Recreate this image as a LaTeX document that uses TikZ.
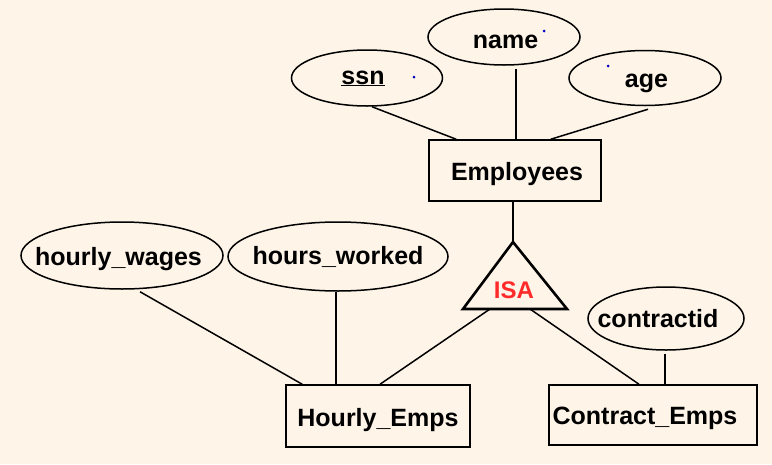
\documentclass[tikz,border=0pt]{standalone}
\usepackage{fontspec}
\setmainfont{Liberation Sans}
\usetikzlibrary{shapes.geometric,calc}
\definecolor{bgc}{HTML}{FEF4E8}
\definecolor{isared}{HTML}{FF2A2A}
\newcommand{\tx}[3][0pt]{\makebox[0pt]{\hspace{#1}\smash{\raisebox{#2}{#3}}}}
\begin{document}
\begin{tikzpicture}[x=1pt,y=-1pt,
  lbl/.style={font=\fontsize{25}{30}\selectfont\bfseries},
  attr/.style={draw, ellipse, line width=1.5pt, inner sep=0pt, lbl},
  ent/.style={draw, rectangle, line width=1.5pt, inner sep=0pt, lbl},
  link/.style={line width=1.5pt},
  tri/.style={line width=2.6pt, line join=miter},
  dotm/.style={fill=blue!75!black}]
\fill[bgc] (0,0) rectangle (772,464);
\useasboundingbox (0,0) rectangle (772,464);

% entities
\node[ent, minimum width=172pt, minimum height=61pt] (emp) at (515,170.5) {\tx[4pt]{-9.5pt}{Employees}};
\node[ent, minimum width=184pt, minimum height=62pt] (hourly) at (378,416) {\tx{-10pt}{Hourly\_Emps}};
\node[ent, minimum width=208pt, minimum height=60pt] (contract) at (653,415) {\tx[-16pt]{-9.5pt}{Contract\_Emps}};

% attributes
\node[attr, minimum width=151pt, minimum height=56pt] (ssn) at (367,78) {\tx[-8pt]{-6pt}{\underline{ssn}}};
\node[attr, minimum width=152pt, minimum height=56pt] (name) at (504,37) {\tx[3pt]{-11pt}{name}};
\node[attr, minimum width=152pt, minimum height=55pt] (age) at (645,78) {\tx[3pt]{-9pt}{age}};
\node[attr, minimum width=202pt, minimum height=67pt] (hw) at (122,255.5) {\tx[-7pt]{-10pt}{hourly\_wages}};
\node[attr, minimum width=220pt, minimum height=69pt] (hwk) at (338,256.5) {\tx{-8pt}{hours\_worked}};
\node[attr, minimum width=156pt, minimum height=63pt] (cid) at (666,318.5) {\tx[-16pt]{-9pt}{contractid}};

% ISA triangle
\coordinate (isatop) at (513,242);
\coordinate (isal) at (463,309);
\coordinate (isar) at (567,309);
\draw[tri] (isatop) -- (isal) -- (isar) -- cycle;
\node[lbl, text=isared, font=\fontsize{24}{28}\selectfont\bfseries] (isa) at (514,290) {ISA};
\coordinate (isab1) at (490,309);
\coordinate (isab2) at (530,309);

% connectors
\draw[link] ($(ssn.south)+(5,0)$) -- ($(emp.north west)+(28,0)$);
\draw[link] ($(name.south)+(12,3)$) -- ($(emp.north)+(1,0)$);
\draw[link] ($(age.south)+(3,3)$) -- ($(emp.north east)+(-51,0)$);
\draw[link] (emp.south -| isatop) -- (isatop);
\draw[link] (isab1) -- ($(hourly.north)+(2,0)$);
\draw[link] (isab2) -- ($(contract.north)+(-14,0)$);
\draw[link] ($(hw.south)+(18,2)$) -- ($(hourly.north west)+(17,0)$);
\draw[link] ($(hwk.south)+(-2,0)$) -- ($(hourly.north)+(-42,0)$);
\draw[link] ($(cid.south)+(-1,3)$) -- ($(contract.north)+(12,0)$);

% stray blue dots
\fill[dotm] (414,77) circle (1.5pt);
\fill[dotm] (544,31) circle (1.5pt);
\fill[dotm] (608,66) circle (1.5pt);
\end{tikzpicture}
\end{document}
